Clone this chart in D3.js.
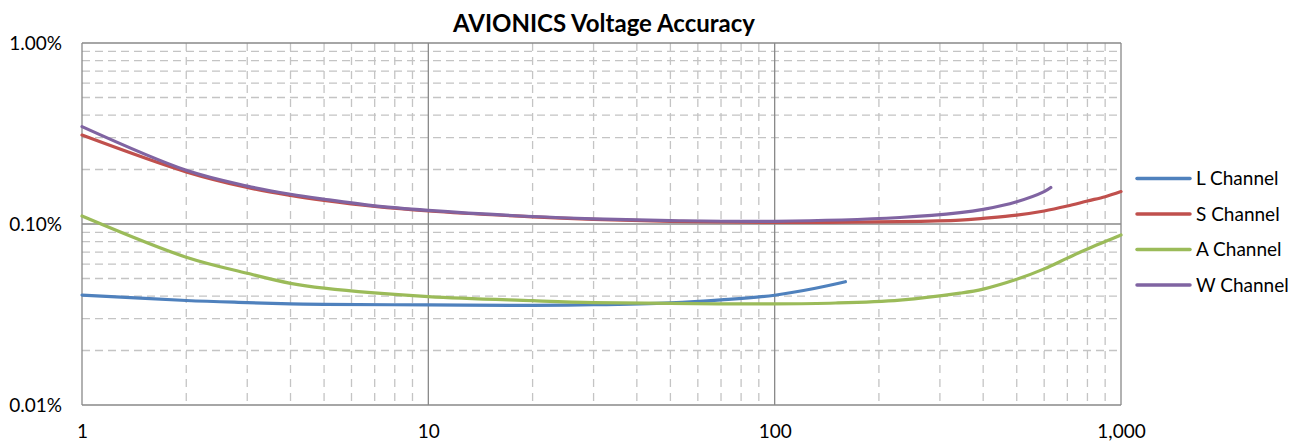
<!DOCTYPE html>
<html>
<head>
<meta charset="utf-8">
<script src="https://cdn.jsdelivr.net/npm/d3@7"></script>
<style>
  html, body { margin: 0; padding: 0; background: #fff; }
  svg { display: block; }
  text { font-family: Lato, "Open Sans", sans-serif; fill: #000; }
</style>
</head>
<body>
<svg id="chart" width="1305" height="443"></svg>
<script>
// ---- Data (values in percent) ----
const title = "AVIONICS Voltage Accuracy";
const seriesNames = ["L Channel", "S Channel", "A Channel", "W Channel"];
const seriesColors = ["#4F81BD", "#C0504D", "#9BBB59", "#8064A2"];

const lX = [1, 2, 3, 4, 5, 10, 20, 30, 50, 70, 100, 130, 160];
const lY = [0.0405, 0.0378, 0.0368, 0.0362, 0.0360, 0.0357, 0.0355, 0.0358, 0.0367, 0.0381, 0.0404, 0.0440, 0.0480];

const sX = [1, 2, 3, 4, 5, 7, 10, 20, 30, 50, 100, 230, 343, 400, 500, 600, 700, 800, 900, 1000];
const sY = [0.310, 0.194, 0.159, 0.1437, 0.135, 0.125, 0.118, 0.1095, 0.106, 0.1035, 0.102, 0.103, 0.105, 0.1075, 0.112, 0.118, 0.1257, 0.134, 0.1415, 0.151];

const aX = [1, 2, 3, 4, 5, 10, 20, 30, 50, 100, 150, 230, 343, 400, 500, 600, 700, 800, 900, 1000];
const aY = [0.1107, 0.0655, 0.0534, 0.0470, 0.0442, 0.0397, 0.0377, 0.0368, 0.0364, 0.0362, 0.0366, 0.0380, 0.0415, 0.0437, 0.0495, 0.0565, 0.0648, 0.0728, 0.0800, 0.0870];

const wX = [1, 2, 3, 4, 5, 7, 10, 20, 30, 50, 100, 230, 343, 400, 500, 600, 627];
const wY = [0.345, 0.198, 0.162, 0.146, 0.137, 0.126, 0.119, 0.110, 0.1068, 0.1045, 0.1035, 0.1086, 0.1155, 0.1205, 0.1328, 0.151, 0.159];

const xTickValues = [1, 10, 100, 1000];
const yTickValues = [0.01, 0.1, 1];

const seriesX = [lX, sX, aX, wX];
const seriesY = [lY, sY, aY, wY];

// ---- Layout ----
const pLeft = 82, pRight = 1121, pTop = 43, pBottom = 405;
const svg = d3.select("#chart");

const x = d3.scaleLog().domain([1, 1000]).range([pLeft, pRight]);
const y = d3.scaleLog().domain([0.01, 1]).range([pBottom, pTop]);

// Title
svg.append("text")
  .attr("x", 604).attr("y", 31.5)
  .attr("text-anchor", "middle")
  .style("font-size", "24px").style("font-weight", "bold")
  .text(title);

// Minor gridlines (dashed)
const minorX = x.ticks().filter(v => !xTickValues.includes(v));
const minorY = y.ticks().filter(v => !yTickValues.includes(v));
const grid = svg.append("g");
grid.selectAll("line.mx").data(minorX).join("line")
  .attr("x1", d => x(d)).attr("x2", d => x(d))
  .attr("y1", pTop).attr("y2", pBottom)
  .attr("stroke", "#c4c4c4").attr("stroke-width", 1.3)
  .attr("stroke-dasharray", "8,6");
grid.selectAll("line.my").data(minorY).join("line")
  .attr("y1", d => y(d)).attr("y2", d => y(d))
  .attr("x1", pLeft).attr("x2", pRight)
  .attr("stroke", "#c4c4c4").attr("stroke-width", 1.3)
  .attr("stroke-dasharray", "8,5");

// Major gridlines
grid.selectAll("line.Mx").data(xTickValues).join("line")
  .attr("x1", d => x(d)).attr("x2", d => x(d))
  .attr("y1", pTop).attr("y2", pBottom)
  .attr("stroke", "#898989").attr("stroke-width", 1.3);
grid.selectAll("line.My").data(yTickValues).join("line")
  .attr("y1", d => y(d)).attr("y2", d => y(d))
  .attr("x1", pLeft).attr("x2", pRight)
  .attr("stroke", "#898989").attr("stroke-width", 1.3);

// Axes (labels only)
const xAxis = d3.axisBottom(x).tickValues(xTickValues).tickFormat(d3.format(",")).tickSize(0).tickPadding(0);
const gx = svg.append("g").attr("transform", `translate(0,${pBottom})`).call(xAxis);
gx.select(".domain").remove();
gx.selectAll("text").attr("dy", null).attr("y", 33)
  .style("font-size", "19px").style("font-family", "Lato, sans-serif").attr("fill", "#000");

const yAxis = d3.axisLeft(y).tickValues(yTickValues).tickFormat(d => d.toFixed(2) + "%").tickSize(0).tickPadding(0);
const gy = svg.append("g").attr("transform", `translate(62,0)`).call(yAxis);
gy.select(".domain").remove();
gy.selectAll("text").attr("x", 0).attr("dy", "0.35em")
  .style("font-size", "19px").style("font-family", "Lato, sans-serif").attr("fill", "#000");

// Lines
const line = d3.line()
  .x(d => x(d[0])).y(d => y(d[1]))
  .curve(d3.curveCatmullRom.alpha(0.5));

const lines = svg.append("g");
seriesNames.forEach((name, i) => {
  const pts = seriesX[i].map((v, j) => [v, seriesY[i][j]]);
  lines.append("path")
    .datum(pts)
    .attr("d", line)
    .attr("fill", "none")
    .attr("stroke", seriesColors[i])
    .attr("stroke-width", 3.2)
    .attr("stroke-linecap", "round");
});

// Legend
const legend = svg.append("g");
seriesNames.forEach((name, i) => {
  const ly = 178.5 + i * 35.5;
  legend.append("line")
    .attr("x1", 1137).attr("x2", 1190)
    .attr("y1", ly).attr("y2", ly)
    .attr("stroke", seriesColors[i]).attr("stroke-width", 3.5)
    .attr("stroke-linecap", "round");
  legend.append("text")
    .attr("x", 1196).attr("y", ly).attr("dy", "0.35em")
    .style("font-size", "19px")
    .text(name);
});
</script>
</body>
</html>
